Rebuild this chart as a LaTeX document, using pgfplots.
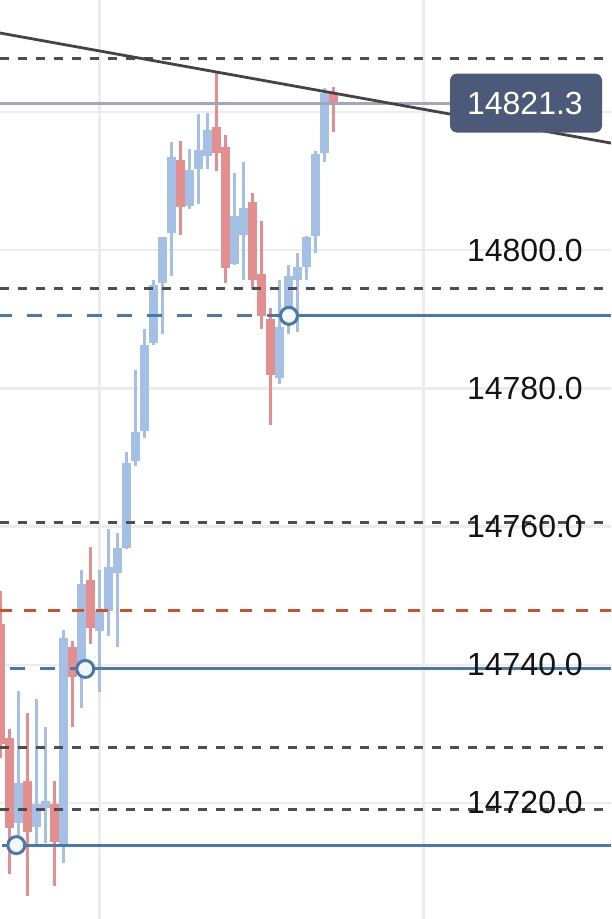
\documentclass[border=0pt]{standalone}
\usepackage{fontspec}
\setmainfont{Liberation Sans}
\usepackage{pgfplots}
\usepackage{pgfplotstable}
\pgfplotsset{compat=1.18}
\definecolor{cblue}{RGB}{164,192,228}
\definecolor{cred}{RGB}{228,143,143}
\definecolor{lblue}{RGB}{74,120,170}
\definecolor{ddash}{RGB}{78,78,82}
\definecolor{odash}{RGB}{204,82,40}
\definecolor{trendc}{RGB}{68,68,70}
\definecolor{pricec}{RGB}{160,168,184}
\definecolor{boxc}{RGB}{75,90,120}
\definecolor{gridc}{RGB}{236,236,238}
\definecolor{circfill}{RGB}{243,247,252}

\pgfplotstableread{
k O H L C
2 14717.1 14736.2 14714.2 14722.9
4 14716.5 14735.2 14714.2 14719.9
5 14719.3 14731.1 14714.2 14720.4
7 14713.9 14745.2 14711.5 14743.9
9 14740.3 14753.7 14733.7 14751.8
11 14744.9 14753.7 14736.1 14747.9
12 14747.9 14759.7 14744.2 14754.3
13 14753.4 14759.1 14742.6 14756.9
14 14757.0 14770.8 14756.8 14769.3
15 14769.5 14782.8 14768.8 14773.8
16 14774.0 14788.7 14772.8 14786.4
17 14786.6 14795.8 14786.3 14795.0
18 14795.3 14802.1 14788.0 14802.0
19 14802.6 14815.8 14796.4 14813.5
21 14806.5 14814.8 14806.0 14811.6
22 14811.8 14819.9 14806.8 14814.5
23 14813.8 14819.9 14811.8 14817.5
26 14798.1 14811.3 14797.9 14805.1
27 14802.2 14812.9 14795.8 14806.1
31 14781.5 14795.8 14780.8 14789.0
32 14790.9 14797.9 14787.9 14796.4
33 14795.7 14799.7 14788.3 14797.6
34 14797.6 14802.1 14795.8 14802.0
35 14802.2 14814.4 14799.7 14814.1
36 14814.2 14823.5 14812.8 14822.9
}\bluedata

\pgfplotstableread{
k O H L C
0 14746.0 14750.8 14726.7 14728.7
1 14729.4 14730.7 14709.6 14716.5
3 14723.3 14733.2 14706.7 14716.0
6 14719.9 14723.2 14708.1 14714.5
8 14742.7 14743.6 14731.1 14738.4
10 14752.4 14757.2 14743.2 14745.5
20 14813.1 14815.8 14802.3 14806.3
24 14818.0 14825.8 14811.5 14814.2
25 14815.1 14816.8 14795.4 14797.6
28 14807.0 14808.3 14794.4 14795.7
29 14796.6 14804.4 14788.7 14790.6
30 14790.3 14791.8 14774.8 14782.1
37 14822.6 14823.5 14817.0 14821.3
}\reddata

\begin{document}
\begin{tikzpicture}
\begin{axis}[
  width=611pt, height=919pt, scale only axis,
  xmin=-0.0556, xmax=67.833, ymin=14703.21, ymax=14836.21,
  axis lines=none,
  clip=true,
]
% grid
\addplot[gridc, line width=2.5pt, forget plot] coordinates {(11,14690) (11,14850)};
\addplot[gridc, line width=2.5pt, forget plot] coordinates {(47,14690) (47,14850)};
\addplot[gridc, line width=2.5pt, forget plot] coordinates {(-1,14720) (70,14720)};
\addplot[gridc, line width=2.5pt, forget plot] coordinates {(-1,14740) (70,14740)};
\addplot[gridc, line width=2.5pt, forget plot] coordinates {(-1,14760) (70,14760)};
\addplot[gridc, line width=2.5pt, forget plot] coordinates {(-1,14780) (70,14780)};
\addplot[gridc, line width=2.5pt, forget plot] coordinates {(-1,14800) (70,14800)};
\addplot[gridc, line width=2.5pt, forget plot] coordinates {(-1,14820) (70,14820)};
% wicks
\addplot[draw=none, mark=none, forget plot,
  error bars/.cd, y dir=both, y explicit, error mark=none,
  error bar style={draw=cblue, line width=2.5pt, solid}]
  table[x=k, y expr={(\thisrow{H}+\thisrow{L})/2}, y error expr={(\thisrow{H}-\thisrow{L})/2}] {\bluedata};
\addplot[draw=none, mark=none, forget plot,
  error bars/.cd, y dir=both, y explicit, error mark=none,
  error bar style={draw=cred, line width=2.5pt, solid}]
  table[x=k, y expr={(\thisrow{H}+\thisrow{L})/2}, y error expr={(\thisrow{H}-\thisrow{L})/2}] {\reddata};
% bodies
\addplot[draw=none, mark=none, forget plot,
  error bars/.cd, y dir=both, y explicit, error mark=none,
  error bar style={draw=cblue, line width=8.3pt, solid}]
  table[x=k, y expr={(\thisrow{O}+\thisrow{C})/2}, y error expr={abs(\thisrow{O}-\thisrow{C})/2}] {\bluedata};
\addplot[draw=none, mark=none, forget plot,
  error bars/.cd, y dir=both, y explicit, error mark=none,
  error bar style={draw=cred, line width=8.3pt, solid}]
  table[x=k, y expr={(\thisrow{O}+\thisrow{C})/2}, y error expr={abs(\thisrow{O}-\thisrow{C})/2}] {\reddata};

% dark dashed levels
\addplot[ddash, line width=3pt, dash pattern=on 9pt off 9pt, forget plot] coordinates {(-0.0556,14827.8) (67.833,14827.8)};
\addplot[ddash, line width=3pt, dash pattern=on 9pt off 9pt, forget plot] coordinates {(-0.0556,14794.4) (67.833,14794.4)};
\addplot[ddash, line width=3pt, dash pattern=on 9pt off 9pt, forget plot] coordinates {(-0.0556,14760.6) (67.833,14760.6)};
\addplot[ddash, line width=3pt, dash pattern=on 9pt off 9pt, forget plot] coordinates {(-0.0556,14728.0) (67.833,14728.0)};
\addplot[ddash, line width=3pt, dash pattern=on 9pt off 9pt, forget plot] coordinates {(-0.0556,14719.0) (67.833,14719.0)};
% orange dashed
\addplot[odash, line width=3pt, dash pattern=on 12pt off 12pt, forget plot] coordinates {(-0.0556,14747.9) (67.833,14747.9)};

% blue levels: dashed left, solid right
\addplot[lblue, line width=3pt, dash pattern=on 15pt off 15pt, dash phase=3pt, forget plot] coordinates {(-0.0556,14790.5) (32.05,14790.5)};
\addplot[lblue, line width=3pt, forget plot] coordinates {(32.05,14790.5) (67.833,14790.5)};
\addplot[lblue, line width=3pt, dash pattern=on 15pt off 15pt, dash phase=20pt, forget plot] coordinates {(-0.0556,14739.4) (9.42,14739.4)};
\addplot[lblue, line width=3pt, forget plot] coordinates {(9.42,14739.4) (67.833,14739.4)};
\addplot[lblue, line width=3pt, forget plot] coordinates {(0.15,14713.9) (67.833,14713.9)};

% price line
\addplot[pricec, line width=3pt, forget plot] coordinates {(-0.0556,14821.3) (58.4,14821.3)};
% trend line
\addplot[trendc, line width=2.8pt, forget plot] coordinates {(-0.0556,14831.43) (67.833,14815.5)};

% circles
\addplot[only marks, mark=*, mark size=8.5pt, mark options={draw=lblue, fill=circfill, line width=3pt}, forget plot]
  coordinates {(1.76,14713.9) (9.42,14739.4) (32.05,14790.5)};

% labels
\node[anchor=east, inner sep=0pt, font=\fontsize{32}{38}\selectfont, text=black!92] at (axis cs:64.72,14800) {14800.0};
\node[anchor=east, inner sep=0pt, font=\fontsize{32}{38}\selectfont, text=black!92] at (axis cs:64.72,14780) {14780.0};
\node[anchor=east, inner sep=0pt, font=\fontsize{32}{38}\selectfont, text=black!92] at (axis cs:64.72,14760) {14760.0};
\node[anchor=east, inner sep=0pt, font=\fontsize{32}{38}\selectfont, text=black!92] at (axis cs:64.72,14740) {14740.0};
\node[anchor=east, inner sep=0pt, font=\fontsize{32}{38}\selectfont, text=black!92] at (axis cs:64.72,14720) {14720.0};
% price tag
\node[fill=boxc, rounded corners=7pt, minimum width=152pt, minimum height=59pt, inner sep=0pt] at (axis cs:58.39,14821.3) {};
\node[anchor=east, inner sep=0pt, font=\fontsize{32}{38}\selectfont, text=white] at (axis cs:64.72,14821.3) {14821.3};
\end{axis}
\pgfresetboundingbox
\path[use as bounding box] (current axis.south west) rectangle (current axis.north east);
\end{tikzpicture}
\end{document}
